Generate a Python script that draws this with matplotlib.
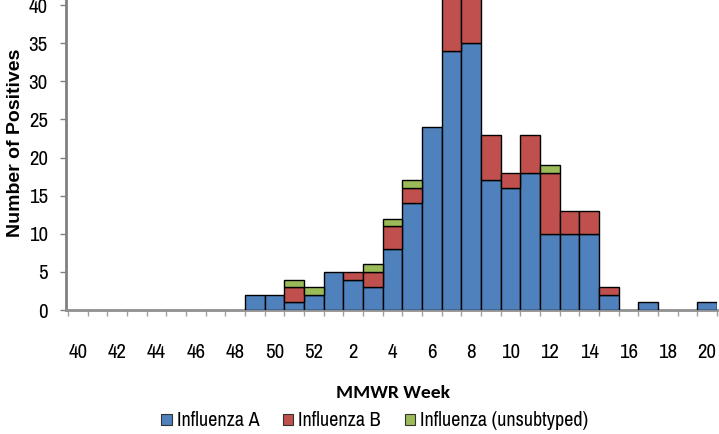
import matplotlib
matplotlib.use("Agg")
import matplotlib.pyplot as plt
from matplotlib.patches import Patch
import numpy as np

weeks = [40, 41, 42, 43, 44, 45, 46, 47, 48, 49, 50, 51, 52,
         1, 2, 3, 4, 5, 6, 7, 8, 9, 10, 11, 12, 13, 14, 15, 16, 17, 18, 19, 20]
flu_a = [0, 0, 0, 0, 0, 0, 0, 0, 0, 2, 2, 1, 2,
         5, 4, 3, 8, 14, 24, 34, 35, 17, 16, 18, 10, 10, 10, 2, 0, 1, 0, 0, 1]
flu_b = [0, 0, 0, 0, 0, 0, 0, 0, 0, 0, 0, 2, 0,
         0, 1, 2, 3, 2, 0, 10, 9, 6, 2, 5, 8, 3, 3, 1, 0, 0, 0, 0, 0]
flu_u = [0, 0, 0, 0, 0, 0, 0, 0, 0, 0, 0, 1, 1,
         0, 0, 1, 1, 1, 0, 0, 0, 0, 0, 0, 1, 0, 0, 0, 0, 0, 0, 0, 0]
series_names = ["Influenza A", "Influenza B", "Influenza (unsubtyped)"]
colors = ["#4F81BD", "#C0504D", "#9BBB59"]
yticks = [0, 5, 10, 15, 20, 25, 30, 35, 40]

narrow = ["Archivo Narrow", "DejaVu Sans"]
arial = ["Arimo", "Liberation Sans", "DejaVu Sans"]
calibri = ["Carlito", "Lato", "DejaVu Sans"]

fig = plt.figure(figsize=(7.19, 4.34), dpi=100)
W, H = 719, 434
ax = fig.add_axes([66 / W, (H - 310) / H, (717 - 66) / W, 343 / H])

x = np.arange(len(weeks))
a = np.array(flu_a); b = np.array(flu_b); u = np.array(flu_u)
for vals, bottom, c in [(a, np.zeros_like(a), colors[0]), (b, a, colors[1]), (u, a + b, colors[2])]:
    mask = vals > 0
    ax.bar(x[mask], vals[mask], bottom=bottom[mask],
           width=1.0, color=c, edgecolor="black", linewidth=1.0, zorder=3)

ax.set_xlim(-0.6, 32.5)
ax.set_ylim(0, 45)
ax.set_yticks(yticks)
ax.set_yticklabels([str(v) for v in yticks], family=narrow, fontsize=15)
ax.set_xticks(x[::2])
ax.set_xticklabels([str(w) for w in weeks[::2]], family=narrow, fontsize=15)
ax.set_xticks(np.arange(-0.5, 33, 1), minor=True)
ax.tick_params(axis="x", which="major", length=0, pad=24)
ax.tick_params(axis="x", which="minor", length=4, width=1, color="#A0A0A0", direction="out")
ax.tick_params(axis="y", length=4, width=1, color="#808080", pad=9)

for s in ["top", "right"]:
    ax.spines[s].set_visible(False)
ax.spines["left"].set_color("#808080")
ax.spines["left"].set_linewidth(2)
ax.spines["bottom"].set_color("#909090")
ax.spines["bottom"].set_linewidth(2)

fig.text(16 / W, 1 - 143 / H, "Number of Positives", rotation=90, ha="center", va="center",
         fontsize=14, fontweight="bold", family=arial)
fig.text(393 / W, 1 - 393 / H, "MMWR Week", ha="center", va="center",
         fontsize=14, fontweight="bold", family=calibri)

handles = [Patch(facecolor=c, edgecolor="#333333", linewidth=0.8) for c in colors]
leg = fig.legend(handles, series_names, loc="center", bbox_to_anchor=(375 / W, 1 - 421 / H),
                 ncol=3, frameon=False, prop={"family": narrow, "size": 14.5},
                 handlelength=0.5, handleheight=0.5, handletextpad=0.25, columnspacing=1.2)

fig.savefig("out.png", dpi=100)
